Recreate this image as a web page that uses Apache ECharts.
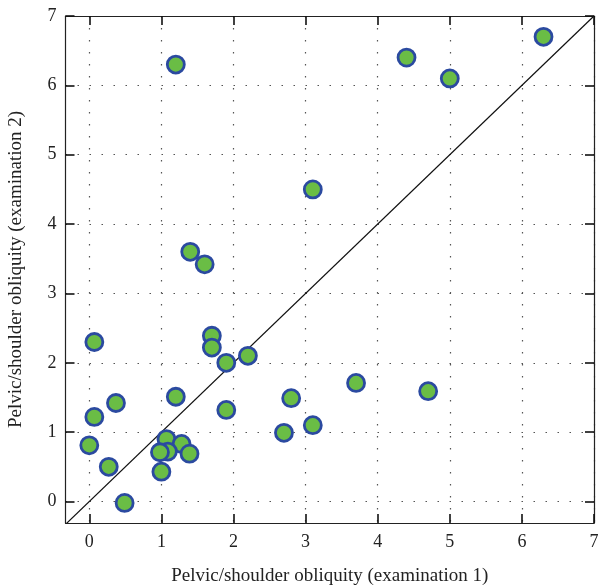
<!DOCTYPE html>
<html><head><meta charset="utf-8">
<script src="https://cdn.jsdelivr.net/npm/echarts@6/dist/echarts.min.js"></script>
<style>html,body{margin:0;padding:0;background:#fff}#c{width:598px;height:587px}</style>
</head><body><div id="c"></div>
<script>
var exam1 = [6.3, 4.4, 5.0, 1.2, 3.1, 1.4, 1.6, 1.7, 1.7, 0.07, 1.9, 2.2, 3.7, 4.7, 2.8, 1.2, 0.37, 1.9, 0.07, 2.7, 3.1, 0.0, 0.27, 0.49, 1.07, 1.28, 1.09, 0.98, 1.39, 1.0];
var exam2 = [6.7, 6.4, 6.1, 6.3, 4.5, 3.6, 3.42, 2.39, 2.22, 2.3, 2.0, 2.1, 1.71, 1.59, 1.49, 1.51, 1.42, 1.32, 1.22, 0.99, 1.1, 0.81, 0.5, -0.02, 0.9, 0.83, 0.72, 0.71, 0.69, 0.43];
var tickValues = [0, 1, 2, 3, 4, 5, 6, 7];
var identityLine = [[-0.4, -0.4], [7, 7]];
var xMin = -0.33, xMax = 7, yMin = -0.31, yMax = 7;

var pts = exam1.map(function (x, i) { return [x, exam2[i]]; });
var font = '"Liberation Serif", "DejaVu Serif", serif';
var gridLine = { show: true, lineStyle: { color: '#555', type: [1.5, 10.5], width: 1.2 } };
function tick() { return { show: true, inside: true, length: 9, customValues: tickValues, lineStyle: { color: '#111', width: 1.6 } }; }
function aline() { return { show: true, onZero: false, lineStyle: { color: '#222', width: 1.2 } }; }
function lbl(m) { return { show: true, fontFamily: font, fontSize: 18, color: '#222', margin: m, customValues: tickValues }; }
var chart = echarts.init(document.getElementById('c'), null, { renderer: 'canvas' });
chart.setOption({
  animation: false,
  grid: { left: 65.5, right: 4, top: 16, bottom: 64, outerBoundsContain: 'axisLabel', outerBounds: { left: 0, right: -20, top: 0, bottom: 0 } },
  xAxis: [{
    type: 'value', min: xMin, max: xMax,
    name: 'Pelvic/shoulder obliquity (examination 1)', nameLocation: 'middle', nameGap: 44,
    nameTextStyle: { fontFamily: font, fontSize: 19, color: '#222' },
    axisLine: aline(), axisTick: tick(), axisLabel: lbl(10), splitLine: gridLine
  }, {
    type: 'value', position: 'top', min: xMin, max: xMax,
    axisLine: aline(), axisTick: tick(), axisLabel: { show: false }, splitLine: { show: false }
  }],
  yAxis: [{
    type: 'value', min: yMin, max: yMax,
    name: 'Pelvic/shoulder obliquity (examination 2)', nameLocation: 'middle', nameGap: 40,
    nameTextStyle: { fontFamily: font, fontSize: 19, color: '#222' },
    axisLine: aline(), axisTick: tick(), axisLabel: lbl(9), splitLine: gridLine
  }, {
    type: 'value', position: 'right', min: yMin, max: yMax,
    axisLine: aline(), axisTick: tick(), axisLabel: { show: false }, splitLine: { show: false }
  }],
  series: [{
    type: 'line', data: identityLine, symbol: 'none', clip: true, silent: true,
    lineStyle: { color: '#111', width: 1.2 }, z: 2
  }, {
    type: 'scatter', data: pts, symbol: 'circle', symbolSize: 17,
    itemStyle: { color: '#6abd45', borderColor: '#2b4aa0', borderWidth: 2.8, opacity: 1 }, z: 3
  }]
});
</script></body></html>
